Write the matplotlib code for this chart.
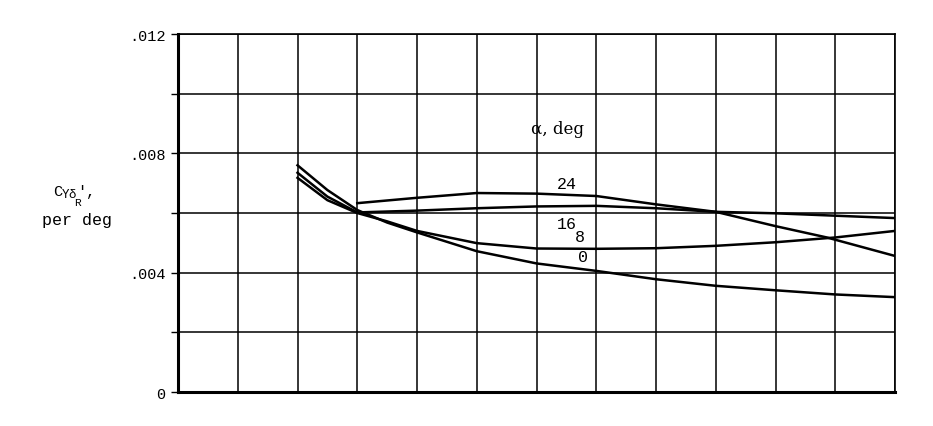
import matplotlib.pyplot as plt
import numpy as np

# x in grid-column units (the original has no x labels)
x_0 = [2, 2.5, 3, 3.5, 4, 5, 6, 7, 8, 9, 10, 11, 12]
cy_0 = [0.0076, 0.00677, 0.0061, 0.00568, 0.00535, 0.00472, 0.00431, 0.00406, 0.00378, 0.00356, 0.00341, 0.00327, 0.00318]

x_8 = [2, 2.5, 3, 3.5, 4, 5, 6, 7, 8, 9, 10, 11, 12]
cy_8 = [0.00718, 0.00643, 0.006, 0.00572, 0.0054, 0.00499, 0.00481, 0.0048, 0.00482, 0.0049, 0.00502, 0.00518, 0.0054]

x_16 = [2, 2.5, 3, 3.5, 4, 5, 6, 7, 8, 9, 10, 11, 12]
cy_16 = [0.00735, 0.00655, 0.00602, 0.00605, 0.00608, 0.00616, 0.00622, 0.00624, 0.00616, 0.00604, 0.00599, 0.00591, 0.00583]

x_24 = [3, 3.5, 4, 5, 6, 7, 8, 9, 10, 10.86, 12]
cy_24 = [0.00633, 0.00642, 0.00651, 0.00667, 0.00665, 0.00657, 0.00629, 0.00604, 0.00556, 0.00518, 0.00456]

ytick_vals = [0, 0.004, 0.008, 0.012]
ytick_labels = ["0", ".004", ".008", ".012"]

plt.rcParams["font.family"] = ["Liberation Mono", "DejaVu Sans Mono"]

fig = plt.figure(figsize=(9.33, 4.27), dpi=100)
ax = fig.add_axes([0.1908, 0.0796, 0.7685, 0.8384])

for xs, ys in [(x_0, cy_0), (x_8, cy_8), (x_16, cy_16), (x_24, cy_24)]:
    ax.plot(xs, ys, color="black", lw=1.8, solid_joinstyle="round")

ax.set_xlim(0, 12)
ax.set_ylim(0, 0.012)
ax.set_xticks(np.arange(0, 13))
ax.set_xticklabels([])
ax.set_yticks(ytick_vals)
ax.set_yticklabels(ytick_labels, fontsize=11)
ax.set_yticks(np.arange(0, 0.0121, 0.002), minor=True)
ax.tick_params(axis="y", which="both", length=5, width=1, color="black", pad=4)
ax.tick_params(axis="x", length=0)
ax.grid(True, which="both", color="black", lw=1.1)

for side in ["left", "bottom"]:
    ax.spines[side].set_linewidth(2.2)
for side in ["top", "right"]:
    ax.spines[side].set_linewidth(1.2)

ax.text(6.5, 0.00675, "24", fontsize=12, ha="center", va="bottom")
ax.text(6.5, 0.0054, "16", fontsize=12, ha="center", va="bottom")
ax.text(6.73, 0.00495, "8", fontsize=12, ha="center", va="bottom")
ax.text(6.78, 0.0043, "0", fontsize=12, ha="center", va="bottom")
ax.text(5.9, 0.00855, "α, deg", fontsize=12, ha="left", va="bottom",
        family=["DejaVu Serif", "Liberation Mono"])

# y label: C with stacked subscripts Y, delta, R
fig.text(0.0616, 0.551, "C", fontsize=11, ha="center", va="center")
fig.text(0.0707, 0.543, "Y", fontsize=9, ha="center", va="center")
fig.text(0.0772, 0.543, "δ", fontsize=9, ha="center", va="center")
fig.text(0.0825, 0.524, "R", fontsize=8, ha="center", va="center")
fig.text(0.0927, 0.551, "',", fontsize=11, ha="center", va="center")
fig.text(0.083, 0.483, "per deg", fontsize=12, ha="center", va="center")

plt.savefig("out.png", dpi=100)
